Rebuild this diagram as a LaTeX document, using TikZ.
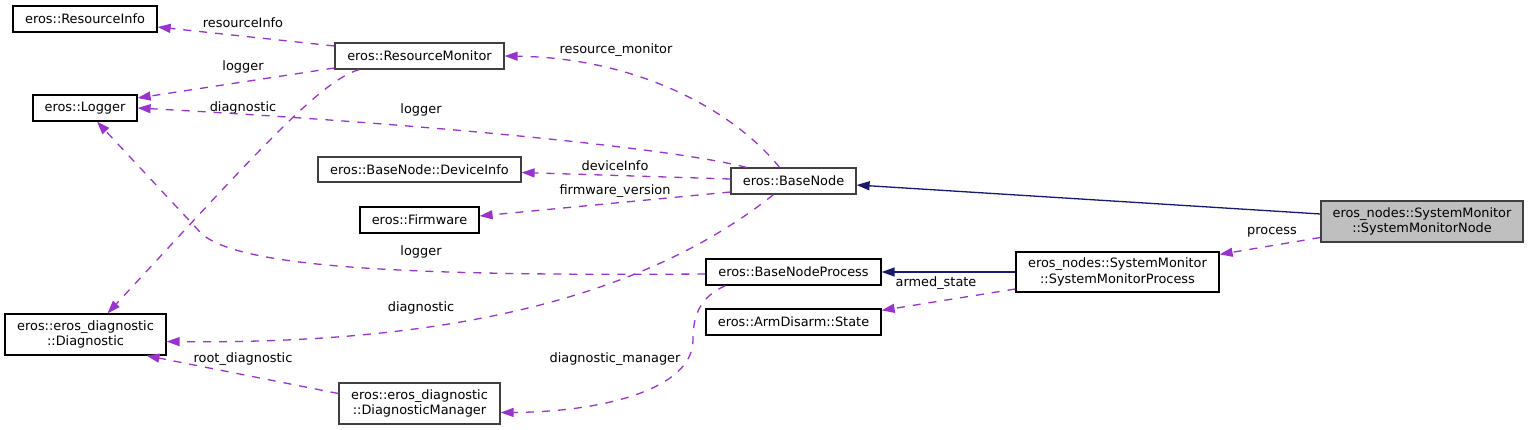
\documentclass[tikz,border=0pt]{standalone}
\usepackage{fontspec}
\setmainfont{DejaVu Sans}
\usepackage{xcolor}
\usepackage{tikz}
\usetikzlibrary{arrows.meta}
\definecolor{dgPurple}{RGB}{154,50,205}
\definecolor{dgNavy}{RGB}{25,25,112}
\definecolor{dgFocus}{RGB}{191,191,191}
\definecolor{dgEdge}{RGB}{64,64,64}
\tikzset{
  dgbox/.style={draw=black,line width=1.2pt,fill=white,inner sep=0pt,align=center,font=\fontsize{12.9}{15.8}\selectfont},
  dgboxgray/.style={dgbox,draw=dgEdge},
  dgfocus/.style={dgbox,draw=dgEdge,fill=dgFocus},
  dglabel/.style={font=\fontsize{12.9}{15.8}\selectfont,text=black,inner sep=0pt},
  dguse/.style={-{Triangle[length=13pt,width=9pt]},draw=dgPurple,line width=1.3pt,dash pattern=on 8pt off 8pt},
  dginherit/.style={-{Triangle[length=13pt,width=9pt]},draw=dgNavy,line width=1.3pt},
}

\begin{document}
\begin{tikzpicture}[x=1pt,y=-1pt]
% Canvas: 1529 x 430, y grows downwards.
\useasboundingbox (0,0) rectangle (1529,430);

% Left column: used classes.
\node[dgbox,minimum width=144pt,minimum height=26pt] (resinfo) at (85,19) {eros::ResourceInfo};
\node[dgbox,minimum width=104pt,minimum height=26pt] (logger) at (85,108) {eros::Logger};
\node[dgbox,minimum width=161pt,minimum height=41pt] (diag) at (85.5,334.5) {eros::eros\_diagnostic\\::Diagnostic};

% Middle column.
\node[dgboxgray,minimum width=169pt,minimum height=26pt] (resmon) at (419.5,56) {eros::ResourceMonitor};
\node[dgboxgray,minimum width=203pt,minimum height=25pt] (devinfo) at (419.5,169.5) {eros::BaseNode::DeviceInfo};
\node[dgbox,minimum width=119pt,minimum height=26pt] (firmware) at (419.5,220) {eros::Firmware};
\node[dgboxgray,minimum width=161pt,minimum height=41pt] (diagmgr) at (419.5,403.5) {eros::eros\_diagnostic\\::DiagnosticManager};

% Base classes.
\node[dgboxgray,minimum width=125pt,minimum height=26pt] (basenode) at (793.5,181) {eros::BaseNode};
\node[dgbox,minimum width=175pt,minimum height=26pt] (bnproc) at (793.5,272) {eros::BaseNodeProcess};
\node[dgbox,minimum width=175pt,minimum height=26pt] (armstate) at (793.5,322) {eros::ArmDisarm::State};

% Right side: the documented node and its process.
\node[dgbox,minimum width=203pt,minimum height=40pt] (smproc) at (1117.5,272) {eros\_nodes::SystemMonitor\\::SystemMonitorProcess};
\node[dgfocus,minimum width=202pt,minimum height=41pt] (smnode) at (1422,221.5) {eros\_nodes::SystemMonitor\\::SystemMonitorNode};

% Inheritance.
\draw[dginherit] ([yshift=7.5pt]smnode.west) -- ([yshift=-4pt]basenode.east);
\draw[dginherit] (smproc.west) -- (bnproc.east);

% Usage relations.
\draw[dguse] ([yshift=-16pt]smnode.west) -- ([yshift=-3pt]smproc.north east);
\node[dglabel] (lprocess) at (1272,232) {process};
\draw[dguse] ([yshift=-17pt]smproc.west) -- ([yshift=-2pt]armstate.north east);
\node[dglabel] (larmed) at (936,283) {armed\_state};

\draw[dguse] ([yshift=10pt]resmon.west) -- ([yshift=-8pt]resinfo.east);
\node[dglabel] (lresinfo) at (243,23) {resourceInfo};
\draw[dguse] ([yshift=-12pt]resmon.west) -- ([yshift=10pt]logger.east);
\node[dglabel] (lrmlogger) at (243,67) {logger};
\draw[dguse] ([xshift=25pt]resmon.south west) .. controls (320,80) and (250,160) .. ([xshift=22pt]diag.north);
\node[dglabel] (lrmdiag) at (243,108) {diagnostic};

\draw[dguse] ([xshift=-14pt]basenode.north) .. controls (735,112) and (640,58) .. (resmon.east);
\node[dglabel] (lresmon) at (616,50) {resource\_monitor};
\draw[dguse] ([xshift=16pt]basenode.north west) .. controls (680,150) and (450,125) .. (logger.east);
\node[dglabel] (lbnlogger) at (421,110) {logger};
\draw[dguse] ([yshift=2pt]basenode.west) -- ([yshift=-3pt]devinfo.east);
\node[dglabel] (ldevinfo) at (615,166) {deviceInfo};
\draw[dguse] ([yshift=-11pt]basenode.west) -- ([yshift=4pt]firmware.east);
\node[dglabel] (lfirmware) at (615,191) {firmware\_version};
\draw[dguse] ([xshift=-20pt]basenode.south) .. controls (660,285) and (480,345) .. ([yshift=-7pt]diag.east);
\node[dglabel] (lbndiag) at (421,308) {diagnostic};

\draw[dguse] ([yshift=-2pt]bnproc.west) .. controls (420,276) and (235,269) .. (200,232) -- ([xshift=12pt]logger.south);
\node[dglabel] (lbplogger) at (421,252) {logger};
\draw[dguse] ([xshift=-68pt]bnproc.south) .. controls (700,297) and (693,315) .. (693,340)
  .. controls (693,390) and (600,412) .. ([yshift=-9pt]diagmgr.east);
\node[dglabel] (ldiagmgr) at (615,359) {diagnostic\_manager};

\draw[dguse] ([yshift=10pt]diagmgr.west) -- ([xshift=61pt]diag.south);
\node[dglabel] (lroot) at (243,359) {root\_diagnostic};
\end{tikzpicture}
\end{document}
